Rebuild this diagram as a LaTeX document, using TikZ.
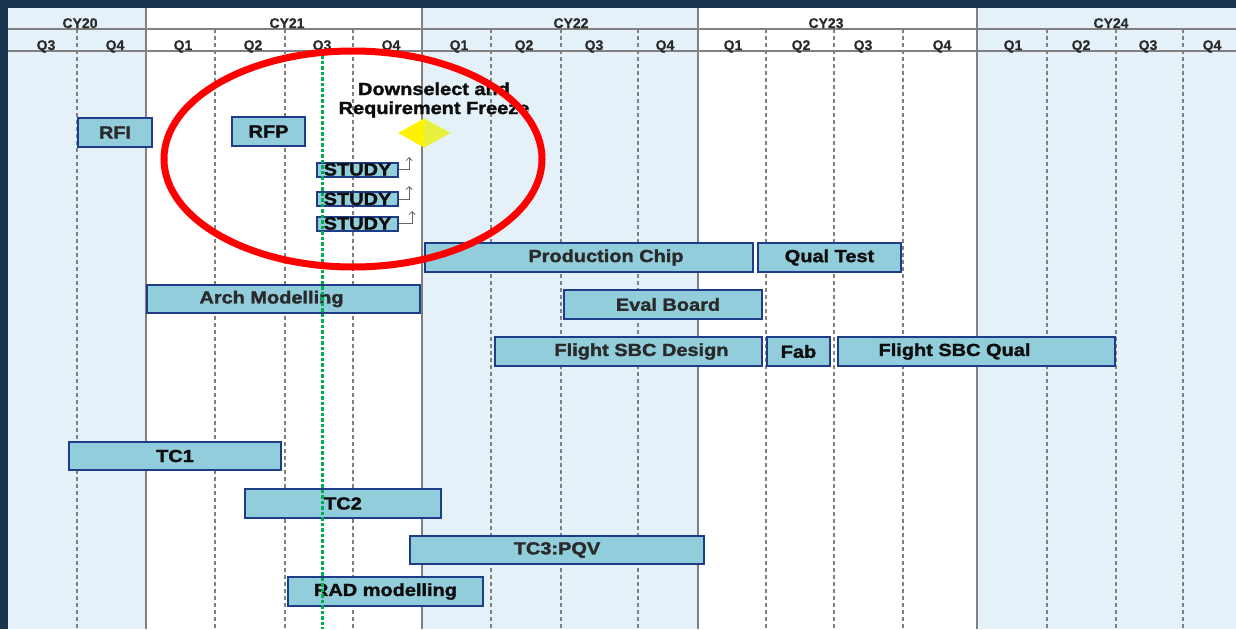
\documentclass[tikz,border=0pt]{standalone}
\usepackage{fontspec}
\setmainfont{Liberation Sans}
\newfontfamily\heavyfont[BoldFeatures={FakeBold=1.6}]{Liberation Sans}
\newfontfamily\hdrfont[BoldFeatures={FakeBold=0.6}]{Liberation Sans}
\usepackage{graphicx}
\usetikzlibrary{shapes.geometric,arrows.meta}
\definecolor{bgdark}{HTML}{1B3450}
\definecolor{paleblue}{HTML}{E4F1F8}
\definecolor{barfill}{HTML}{92CDDC}
\definecolor{barline}{HTML}{1F3C88}
\definecolor{gridgray}{HTML}{808080}
\definecolor{txtdark}{HTML}{0D0D0D}
\definecolor{txtgray}{HTML}{2A2A2A}
\definecolor{todaygreen}{HTML}{00B050}
\definecolor{msright}{HTML}{E8F23C}
\newcommand{\widetxt}[1]{\scalebox{1.14}[1]{#1}}
\begin{document}
\begin{tikzpicture}[x=1pt,y=-1pt,
  bar/.style={draw=barline, fill=barfill, line width=2.4pt, inner sep=0pt,
    font=\heavyfont\fontsize{17.5}{19}\selectfont\bfseries, text=txtdark},
  bargray/.style={bar, text=txtgray},
  studybox/.style={bar, line width=2pt},
  hdr/.style={font=\hdrfont\fontsize{14}{16}\selectfont\bfseries, text=txtgray, anchor=base},
  yearline/.style={draw=gridgray, line width=1.1pt},
  qline/.style={draw=gridgray, line width=1.1pt, dash pattern=on 4pt off 3pt},
  studyarrow/.style={draw=gray!80!black, line width=0.8pt, -{Straight Barb[length=3pt,width=6pt]}},
  today/.style={draw=todaygreen, line width=3pt, dash pattern=on 3.5pt off 2pt},
  milestone/.style={diamond, fill=yellow, minimum width=52pt, minimum height=29pt, inner sep=0pt},
  note/.style={font=\heavyfont\fontsize{17.5}{19}\selectfont\bfseries, text=txtdark, align=center}
]
\useasboundingbox (0,0) rectangle (1236,629);
% background and panel
\fill[bgdark] (0,0) rectangle (1236,629);
\fill[white] (8,8) rectangle (1236,629);
\fill[paleblue] (8,8) rectangle (146,629);
\fill[paleblue] (422,8) rectangle (698,629);
\fill[paleblue] (977,8) rectangle (1236,629);
% header rules
\draw[yearline] (8,29) -- (1236,29);
\draw[yearline] (8,51) -- (1236,51);
\foreach \x in {146,422,698,977} \draw[yearline] (\x,8) -- (\x,629);
\foreach \x in {77,215,285,353,491,561,638,766,834,903,1047,1116,1183} \draw[qline] (\x,29) -- (\x,629);
% year labels
\foreach \x/\t in {80/CY20,287/CY21,571/CY22,826/CY23,1111/CY24}
  \node[hdr] (y\t) at (\x,28) {\t};
% quarter labels
\foreach \x/\t [count=\i] in {46/Q3,115/Q4,183/Q1,253/Q2,322/Q3,391/Q4,459/Q1,524/Q2,594/Q3,665/Q4,733/Q1,801/Q2,863/Q3,942/Q4,1013/Q1,1081/Q2,1148/Q3,1212/Q4}
  \node[hdr] (q\i) at (\x,50) {\t};

% bars
\node[bargray, minimum width=74pt, minimum height=29pt] (rfi) at (115,132.5) {\widetxt{RFI}};
\node[bar, minimum width=73pt, minimum height=29pt] (rfp) at (268.5,131.5) {\widetxt{RFP}};
\node[studybox, minimum width=81pt, minimum height=14pt] (s1) at (357.5,169.5) {\widetxt{STUDY}};
\node[studybox, minimum width=81pt, minimum height=14pt] (s2) at (357.5,199) {\widetxt{STUDY}};
\node[studybox, minimum width=81pt, minimum height=14pt] (s3) at (357.5,223.5) {\widetxt{STUDY}};
\node[bargray, minimum width=328pt, minimum height=29pt] (prod) at (589,257.5) {\hspace*{34pt}\widetxt{Production Chip}};
\node[bar, minimum width=143pt, minimum height=29pt] (qual) at (829.5,257.5) {\widetxt{Qual Test}};
\node[bargray, minimum width=273pt, minimum height=28pt] (arch) at (283.5,299) {\widetxt{Arch Modelling}\hspace*{24pt}};
\node[bargray, minimum width=198pt, minimum height=29pt] (eval) at (663,304.5) {\hspace*{10pt}\widetxt{Eval Board}};
\node[bargray, minimum width=267pt, minimum height=29pt] (fsd) at (628.5,351.5) {\hspace*{26pt}\widetxt{Flight SBC Design}};
\node[bar, minimum width=63pt, minimum height=29pt] (fab) at (798.5,351.5) {\widetxt{Fab}};
\node[bar, minimum width=277pt, minimum height=29pt] (fsq) at (976.5,351.5) {\widetxt{Flight SBC Qual}\hspace*{44pt}};
\node[bar, minimum width=212pt, minimum height=28pt] (tc1) at (175,456) {\widetxt{TC1}};
\node[bar, minimum width=196pt, minimum height=29pt] (tc2) at (343,503.5) {\widetxt{TC2}};
\node[bargray, minimum width=294pt, minimum height=28pt] (tc3) at (557,550) {\widetxt{TC3:PQV}};
\node[bar, minimum width=195pt, minimum height=29pt] (rad) at (385.5,591.5) {\widetxt{RAD modelling}};

% study arrows
\coordinate (t1) at (409,157);
\coordinate (t2) at (409,186);
\coordinate (t3) at (412,211);
\draw[studyarrow] (s1.east) -| (t1);
\draw[studyarrow] (s2.east) -| (t2);
\draw[studyarrow] (s3.east) -| (t3);

% milestone
\node[milestone] (ms) at (424,133) {};
\fill[msright] (ms.north) -- (ms.east) -- (ms.south) -- cycle;
\node[note] (down) at (434,100) {\widetxt{Downselect and}\\\widetxt{Requirement Freeze}};

% today line
\coordinate (g1) at (322,55);
\coordinate (g2) at (322,629);
\draw[today] (g1) -- (g2);

% highlight ellipse
\coordinate (ec) at (353,159);
\draw[red, line width=7pt] (ec) ellipse [x radius=189pt, y radius=108pt];
\end{tikzpicture}
\end{document}
